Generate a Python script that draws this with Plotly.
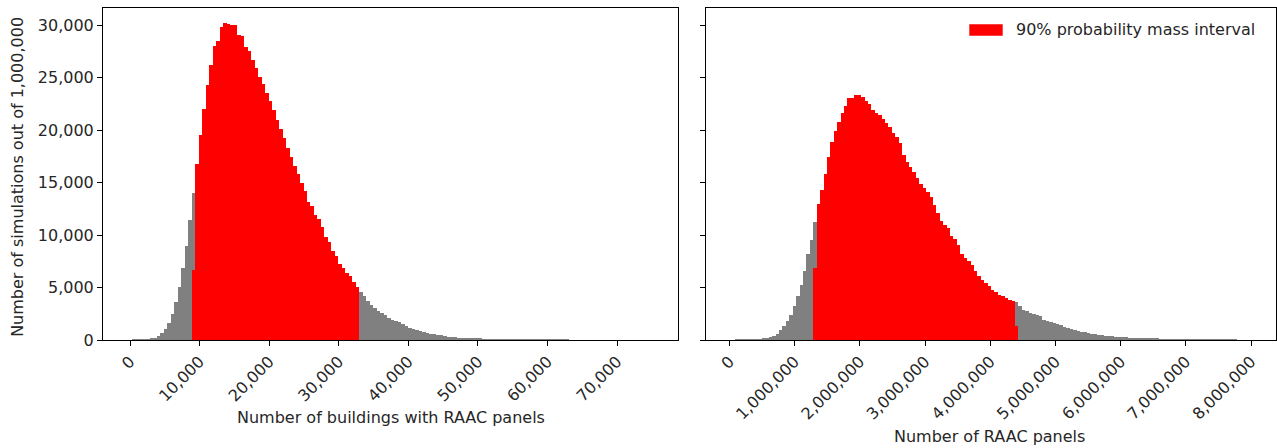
import plotly.graph_objects as go

# ---------------- data ----------------
# Left panel: number of buildings with RAAC panels (histogram, 150 bins)
left_first_edge = -171.0
left_bin_width = 502.0
left_counts = [
    0, 5, 10, 25, 60, 90, 130, 220, 380, 670,
    1080, 1620, 2470, 3580, 5040, 6850, 8970, 11440, 14040, 16770,
    19560, 21970, 24280, 26220, 28020, 28470, 29830, 30150, 30080, 30020,
    29960, 29070, 28940, 27930, 27550, 26660, 25870, 25070, 24380, 23550,
    22790, 21900, 20950, 20120, 19230, 18320, 17430, 16610, 15850, 14930,
    14230, 13120, 12770, 11920, 11540, 10780, 9850, 9290, 8430, 8020,
    7220, 6840, 6370, 6050, 5480, 5010, 4590, 4150, 3670, 3360,
    3040, 2720, 2560, 2370, 2060, 1930, 1830, 1680, 1550, 1360,
    1140, 1040, 920, 820, 760, 690, 600, 540, 470, 440,
    380, 310, 280, 250, 220, 190, 160, 150, 130, 115,
    100, 90, 80, 70, 60, 55, 45, 40, 35, 30,
    25, 20, 18, 15, 12, 10, 8, 7, 6, 5,
    4, 3, 3, 2, 2, 2, 0, 0, 0, 0,
    0, 0, 0, 0, 0, 0, 0, 0, 0, 0,
    0, 0, 0, 0, 0, 0, 0, 0, 0, 0,
]
left_red_start = 18  # index of first bin inside the 90% interval
left_red_counts = [
    6690, 16770, 19560, 21970, 24280, 26220, 28020, 28470, 29830, 30150,
    30080, 30020, 29960, 29070, 28940, 27930, 27550, 26660, 25870, 25070,
    24380, 23550, 22790, 21900, 20950, 20120, 19230, 18320, 17430, 16610,
    15850, 14930, 14230, 13120, 12770, 11920, 11540, 10780, 9850, 9290,
    8430, 8020, 7220, 6840, 6370, 6050, 5480, 5010,
]

# Right panel: number of RAAC panels (histogram, 150 bins)
right_first_edge = 26500.0
right_bin_width = 52440.0
right_counts = [
    0, 1, 3, 5, 10, 20, 30, 60, 90, 120,
    155, 250, 410, 600, 920, 1290, 1770, 2410, 3200, 4210,
    5260, 6530, 8180, 9540, 11220, 12930, 14290, 15820, 17400, 18890,
    19900, 20790, 21650, 22280, 23010, 23010, 23330, 23330, 23170, 22790,
    22470, 21900, 21650, 21400, 21050, 20630, 20250, 19680, 19300, 18730,
    17620, 16990, 16480, 16040, 15400, 14900, 14470, 14090, 13630, 12870,
    12070, 11350, 10960, 10650, 9920, 9600, 9060, 8210, 7800, 7480,
    7160, 6530, 6050, 5740, 5420, 5100, 4790, 4530, 4300, 4150,
    4000, 3850, 3750, 3600, 3250, 2900, 2750, 2600, 2450, 2350,
    2250, 1950, 1780, 1700, 1580, 1480, 1400, 1250, 1180, 1020,
    930, 860, 800, 740, 660, 610, 530, 490, 450, 400,
    370, 340, 320, 300, 270, 250, 220, 200, 185, 170,
    155, 140, 125, 110, 100, 90, 80, 75, 70, 60,
    55, 50, 45, 40, 35, 30, 25, 20, 18, 15,
    12, 10, 8, 6, 5, 4, 3, 2, 0, 0,
]
right_red_start = 24
right_red_counts = [
    6900, 12930, 14290, 15820, 17400, 18890, 19900, 20790, 21650, 22280,
    23010, 23010, 23330, 23330, 23170, 22790, 22470, 21900, 21650, 21400,
    21050, 20630, 20250, 19680, 19300, 18730, 17620, 16990, 16480, 16040,
    15400, 14900, 14470, 14090, 13630, 12870, 12070, 11350, 10960, 10650,
    9920, 9600, 9060, 8210, 7800, 7480, 7160, 6530, 6050, 5740,
    5420, 5100, 4790, 4530, 4300, 4150, 4000, 3850, 3750, 1300,
]

y_ticks = [0, 5000, 10000, 15000, 20000, 25000, 30000]
left_x_ticks = [0, 10000, 20000, 30000, 40000, 50000, 60000, 70000]
right_x_ticks = [0, 1000000, 2000000, 3000000, 4000000, 5000000, 6000000, 7000000, 8000000]

left_xlabel = "Number of buildings with RAAC panels"
right_xlabel = "Number of RAAC panels"
y_label = "Number of simulations out of 1,000,000"
legend_label = "90% probability mass interval"

# ---------------- layout geometry (pixels) ----------------
W, H = 1277, 448
L, R, T = 103, 1, 8
PLOT_BOTTOM = 340.3
B = H - PLOT_BOTTOM
PW = W - L - R
PH = PLOT_BOTTOM - T


def px_x(x):
    return (x - L) / PW


def px_y(y):
    return (PLOT_BOTTOM - y) / PH


GREY = "#808080"
RED = "#ff0000"
FONT = "DejaVu Sans"
FS = 16
TXT = "#262626"


def centers(first_edge, width, n, offset=0):
    return [first_edge + (offset + i + 0.5) * width for i in range(n)]


fig = go.Figure()

fig.add_trace(go.Bar(
    x=centers(left_first_edge, left_bin_width, len(left_counts)),
    y=left_counts, width=left_bin_width,
    marker=dict(color=GREY, line=dict(width=0)),
    xaxis="x", yaxis="y", showlegend=False, hoverinfo="x+y",
))
fig.add_trace(go.Bar(
    x=centers(left_first_edge, left_bin_width, len(left_red_counts), left_red_start),
    y=left_red_counts, width=left_bin_width,
    marker=dict(color=RED, line=dict(width=0)),
    xaxis="x", yaxis="y", showlegend=False, hoverinfo="x+y",
))
fig.add_trace(go.Bar(
    x=centers(right_first_edge, right_bin_width, len(right_counts)),
    y=right_counts, width=right_bin_width,
    marker=dict(color=GREY, line=dict(width=0)),
    xaxis="x2", yaxis="y2", showlegend=False, hoverinfo="x+y",
))
fig.add_trace(go.Bar(
    x=centers(right_first_edge, right_bin_width, len(right_red_counts), right_red_start),
    y=right_red_counts, width=right_bin_width,
    marker=dict(color=RED, line=dict(width=0)),
    xaxis="x2", yaxis="y2", showlegend=False, hoverinfo="x+y",
))

axis_common = dict(
    showline=True, linecolor="black", linewidth=1, mirror=True,
    ticks="outside", ticklen=5, tickwidth=1, tickcolor="black",
    showgrid=False, zeroline=False,
    tickfont=dict(family=FONT, size=FS, color=TXT),
    tickformat=",",
)

ymax = 31620

fig.update_layout(
    width=W, height=H,
    margin=dict(l=L, r=R, t=T, b=B, autoexpand=False),
    paper_bgcolor="white", plot_bgcolor="white",
    barmode="overlay", bargap=0,
    font=dict(family=FONT, size=FS, color=TXT),
    xaxis=dict(domain=[0, px_x(678)], range=[-3880, 78740],
               tickmode="array", tickvals=left_x_ticks, tickangle=-45,
               anchor="y", **axis_common),
    yaxis=dict(domain=[0, 1], range=[0, ymax], tickmode="array",
               tickvals=y_ticks, anchor="x", **axis_common),
    xaxis2=dict(domain=[px_x(706), 1], range=[-360000, 8382000],
                tickmode="array", tickvals=right_x_ticks, tickangle=-45,
                anchor="y2", **axis_common),
    yaxis2=dict(domain=[0, 1], range=[0, ymax], tickmode="array",
                tickvals=y_ticks, anchor="x2", matches="y",
                showticklabels=False, **axis_common),
    showlegend=False,
)

# axis titles
fig.add_annotation(text=left_xlabel, xref="paper", yref="paper",
                   x=px_x(390.5), y=px_y(418), xanchor="center", yanchor="middle",
                   showarrow=False, font=dict(family=FONT, size=FS, color=TXT))
fig.add_annotation(text=right_xlabel, xref="paper", yref="paper",
                   x=px_x(990), y=px_y(437), xanchor="center", yanchor="middle",
                   showarrow=False, font=dict(family=FONT, size=FS, color=TXT))
fig.add_annotation(text=y_label, xref="paper", yref="paper",
                   x=px_x(18), y=px_y(177), xanchor="center", yanchor="middle",
                   textangle=-90, showarrow=False,
                   font=dict(family=FONT, size=FS, color=TXT))

# legend (patch + label)
fig.add_shape(type="rect", xref="paper", yref="paper",
              x0=px_x(969.3), x1=px_x(1002.7), y0=px_y(35.7), y1=px_y(24.3),
              fillcolor=RED, line=dict(width=0))
fig.add_annotation(text=legend_label, xref="paper", yref="paper",
                   x=px_x(1014), y=px_y(30), xanchor="left", yanchor="middle",
                   showarrow=False, font=dict(family=FONT, size=FS, color=TXT))

fig.write_html("out.html")
